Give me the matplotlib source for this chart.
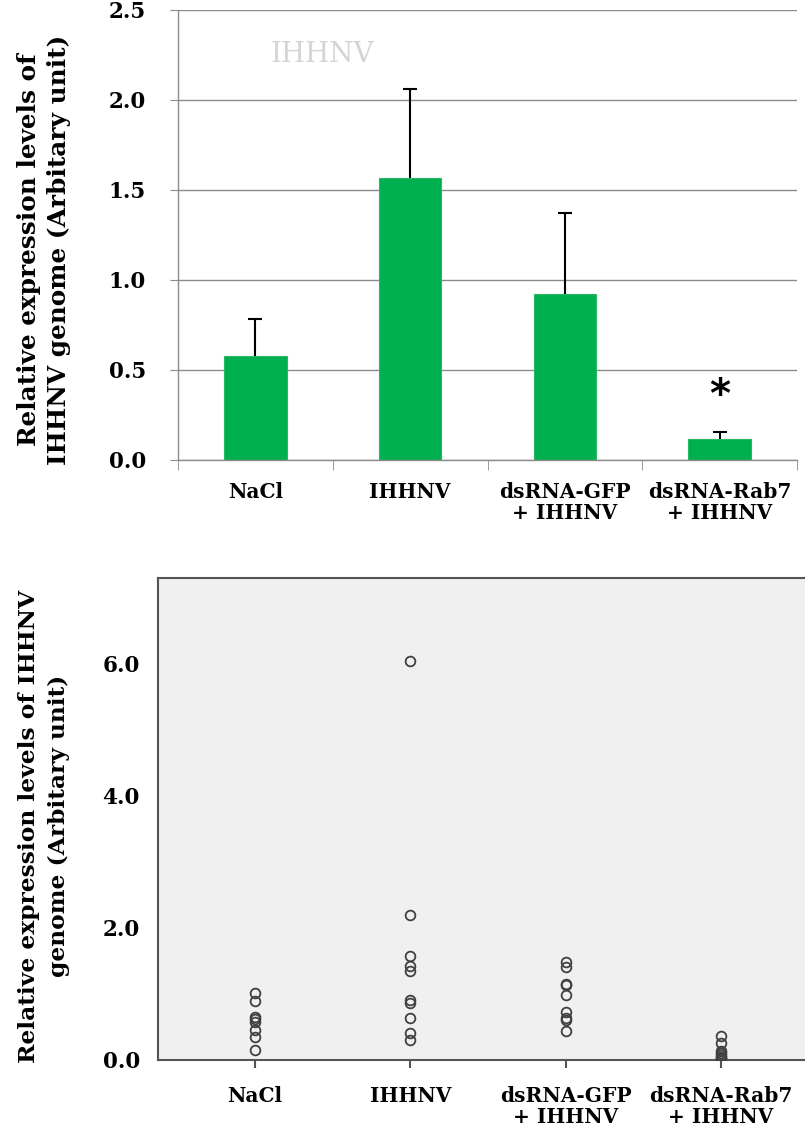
import matplotlib
matplotlib.use("Agg")
import matplotlib.pyplot as plt
import numpy as np

# ---- data ----
categories = ["NaCl", "IHHNV", "dsRNA-GFP\n+ IHHNV", "dsRNA-Rab7\n+ IHHNV"]
mean_expr = [0.578, 1.567, 0.922, 0.117]
err_expr = [0.205, 0.495, 0.450, 0.038]
significant = [False, False, False, True]

nacl_pts = [1.02, 0.90, 0.65, 0.62, 0.58, 0.46, 0.35, 0.15]
ihhnv_pts = [6.05, 2.19, 1.57, 1.42, 1.35, 0.91, 0.86, 0.64, 0.41, 0.30]
gfp_pts = [1.49, 1.41, 1.15, 1.13, 0.99, 0.73, 0.64, 0.60, 0.44]
rab7_pts = [0.37, 0.25, 0.14, 0.10, 0.07, 0.05, 0.03, 0.02, 0.01]
points = [nacl_pts, ihhnv_pts, gfp_pts, rab7_pts]

top_yticks = [0.0, 0.5, 1.0, 1.5, 2.0, 2.5]
bottom_yticks = [0.0, 2.0, 4.0, 6.0]

FONT = "DejaVu Serif"
W, H = 805, 1127
fig = plt.figure(figsize=(W / 100, H / 100), dpi=100)


def fx(px):
    return px / W


def fy(py):
    return 1 - py / H


x = np.arange(len(categories))

# ---- upper panel: mean bars with upper error bars ----
ax1 = fig.add_axes([fx(178), fy(460), fx(797) - fx(178), fy(10) - fy(460)])
ax1.set_xlim(-0.5, 3.5)
ax1.set_ylim(0, 2.5)
ax1.set_axisbelow(True)
ax1.yaxis.grid(True, color="#8c8c8c", linewidth=1.0)
ax1.bar(x, mean_expr, width=0.405, color="#00B050", edgecolor="#2bb865",
        linewidth=0.8, zorder=2)
eb = ax1.errorbar(x, mean_expr, yerr=[np.zeros(len(err_expr)), err_expr],
                  fmt="none", ecolor="black", elinewidth=1.5, capsize=5,
                  capthick=1.5, zorder=3)
# keep only the upper caps
eb[1][0].set_visible(False)
for xi, m, e, s in zip(x, mean_expr, err_expr, significant):
    if s:
        ax1.text(xi, m + e + 0.2, "*", ha="center", va="center",
                 fontsize=29, fontweight="bold", family="DejaVu Sans")

for side in ["top", "right"]:
    ax1.spines[side].set_visible(False)
ax1.spines["left"].set_color("#8c8c8c")
ax1.spines["bottom"].set_color("#8c8c8c")
ax1.spines["left"].set_linewidth(1.0)
ax1.spines["bottom"].set_linewidth(1.0)

ax1.set_yticks(top_yticks)
ax1.set_yticklabels([f"{v:.1f}" for v in top_yticks], fontsize=15.5,
                    fontweight="bold", family=FONT)
ax1.tick_params(axis="y", length=6, color="#8c8c8c", pad=17)
ax1.set_xticks(x)
ax1.set_xticklabels(categories, fontsize=14.5, fontweight="bold",
                    family=FONT, linespacing=1.05)
ax1.tick_params(axis="x", which="major", length=0, pad=16)
ax1.set_xticks(np.arange(-0.5, 3.6, 1.0), minor=True)
ax1.tick_params(axis="x", which="minor", length=7, color="#8c8c8c")

ax1.text(0.233, 0.90, "IHHNV", transform=ax1.transAxes, ha="center",
         va="center", fontsize=20, family=FONT, color="#d4d4d4")

fig.text(fx(44), fy(250), "Relative expression levels of\nIHHNV genome (Arbitary unit)",
         rotation=90, ha="center", va="center", fontsize=17.8,
         fontweight="bold", family=FONT, linespacing=1.35)

# ---- lower panel: individual values ----
ax2 = fig.add_axes([fx(158), fy(1060), 1.0 - fx(158), fy(578) - fy(1060)])
ax2.set_facecolor("#F0F0F0")
ax2.set_xlim(-0.625, 3.54)
ax2.set_ylim(0, 7.3)
for xi, pts in zip(x, points):
    ax2.plot(np.full(len(pts), xi), pts, linestyle="none", marker="o",
             markersize=7, markerfacecolor="none", markeredgecolor="#404040",
             markeredgewidth=1.3, zorder=3)

ax2.spines["right"].set_visible(False)
for side in ["left", "top", "bottom"]:
    ax2.spines[side].set_color("#555555")
    ax2.spines[side].set_linewidth(1.5)

ax2.set_yticks(bottom_yticks)
ax2.set_yticklabels([f"{v:.1f}" for v in bottom_yticks], fontsize=15.5,
                    fontweight="bold", family=FONT)
ax2.tick_params(axis="y", length=0, pad=13)
ax2.set_xticks(x)
ax2.set_xticklabels(categories, fontsize=14.5, fontweight="bold",
                    family=FONT, linespacing=1.05)
ax2.tick_params(axis="x", length=6, color="#555555", width=1.5, pad=13)

fig.text(fx(44), fy(826), "Relative expression levels of IHHNV\ngenome (Arbitary unit)",
         rotation=90, ha="center", va="center", fontsize=16.8,
         fontweight="bold", family=FONT, linespacing=1.45)

fig.savefig("out.png", dpi=100)
